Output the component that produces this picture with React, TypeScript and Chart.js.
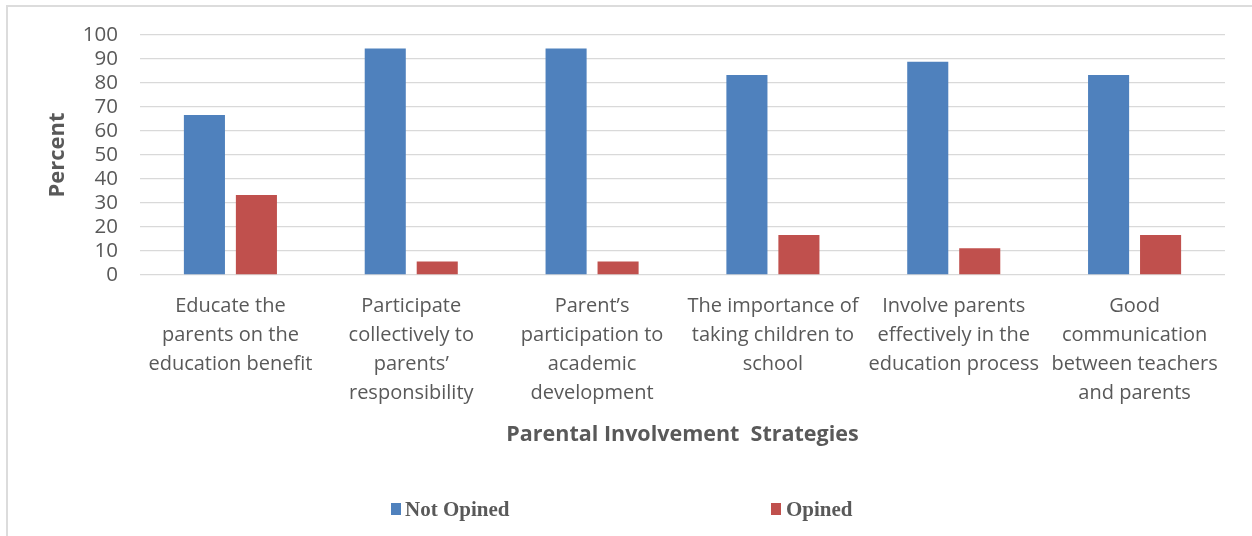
import React, { useEffect, useRef } from "react";
import { Chart, registerables } from "chart.js";

Chart.register(...registerables);

const categories: string[][] = [
  ["Educate the", "parents on the", "education benefit"],
  ["Participate", "collectively to", "parents’", "responsibility"],
  ["Parent’s", "participation to", "academic", "development"],
  ["The importance of", "taking children to", "school"],
  ["Involve parents", "effectively in the", "education process"],
  ["Good", "communication", "between teachers", "and parents"],
];
const notOpined = [66.7, 94.4, 94.4, 83.3, 88.9, 83.3];
const opined = [33.3, 5.6, 5.6, 16.7, 11.1, 16.7];
const yTicks = [0, 10, 20, 30, 40, 50, 60, 70, 80, 90, 100];
const seriesNames = ["Not Opined", "Opined"];
const colors = ["#4f81bd", "#c0504d"];

export default function App() {
  const ref = useRef<HTMLCanvasElement | null>(null);
  useEffect(() => {
    if (!ref.current) return;
    const chart = new Chart(ref.current, {
      type: "bar",
      data: {
        labels: categories,
        datasets: [
          { label: seriesNames[0], data: notOpined, backgroundColor: colors[0], barPercentage: 0.79, categoryPercentage: 0.575 },
          { label: seriesNames[1], data: opined, backgroundColor: colors[1], barPercentage: 0.79, categoryPercentage: 0.575 },
        ],
      },
      options: {
        responsive: false,
        animation: false,
        layout: { padding: { left: 41, right: 27, top: 35, bottom: 84 } },
        plugins: { legend: { display: false }, tooltip: { enabled: false } },
        scales: {
          x: {
            grid: { display: false, drawTicks: false },
            border: { display: false },
            ticks: {
              color: "#595959",
              font: { family: "'Open Sans'", size: 20, lineHeight: 1.45 },
              padding: 17,
              maxRotation: 0,
              autoSkip: false,
            },
            title: {
              display: true,
              text: "Parental Involvement  Strategies",
              color: "#595959",
              font: { family: "'Open Sans'", size: 21.5, weight: "bold" },
            },
            afterFit: (s: any) => { s.height = 177; },
          },
          y: {
            min: 0,
            max: 100,
            afterBuildTicks: (s: any) => { s.ticks = yTicks.map((v) => ({ value: v })); },
            grid: { color: "#d9d9d9", lineWidth: 1.3, drawTicks: false },
            border: { display: false },
            ticks: {
              color: "#595959",
              font: { family: "'Open Sans'", size: 20.5 },
              padding: 22,
              autoSkip: false,
              stepSize: 10,
            },
            title: {
              display: true,
              text: "Percent",
              color: "#595959",
              font: { family: "'Open Sans'", size: 22, weight: "bold" },
            },
            afterFit: (s: any) => { s.width = 99; },
          },
        },
      },
    } as any);
    return () => chart.destroy();
  }, []);

  const legendText: React.CSSProperties = {
    position: "absolute",
    fontFamily: "'Liberation Serif', serif",
    fontWeight: "bold",
    fontSize: 21,
    color: "#595959",
    lineHeight: "22px",
    top: 498,
  };
  return (
    <div style={{ position: "fixed", left: 0, top: 0, width: 1252, height: 536, background: "#fff", overflow: "hidden" }}>
      <div style={{ position: "absolute", left: 6, top: 5, width: 1300, height: 600, borderTop: "2px solid #dcdcdc", borderLeft: "2px solid #dcdcdc" }} />
      <canvas ref={ref} width={1252} height={536} style={{ position: "absolute", left: 0, top: 0 }} />
      <div style={{ position: "absolute", left: 391, top: 503, width: 10, height: 12, background: colors[0] }} />
      <span style={{ ...legendText, left: 405 }}>{seriesNames[0]}</span>
      <div style={{ position: "absolute", left: 771, top: 503, width: 10, height: 12, background: colors[1] }} />
      <span style={{ ...legendText, left: 786 }}>{seriesNames[1]}</span>
    </div>
  );
}
